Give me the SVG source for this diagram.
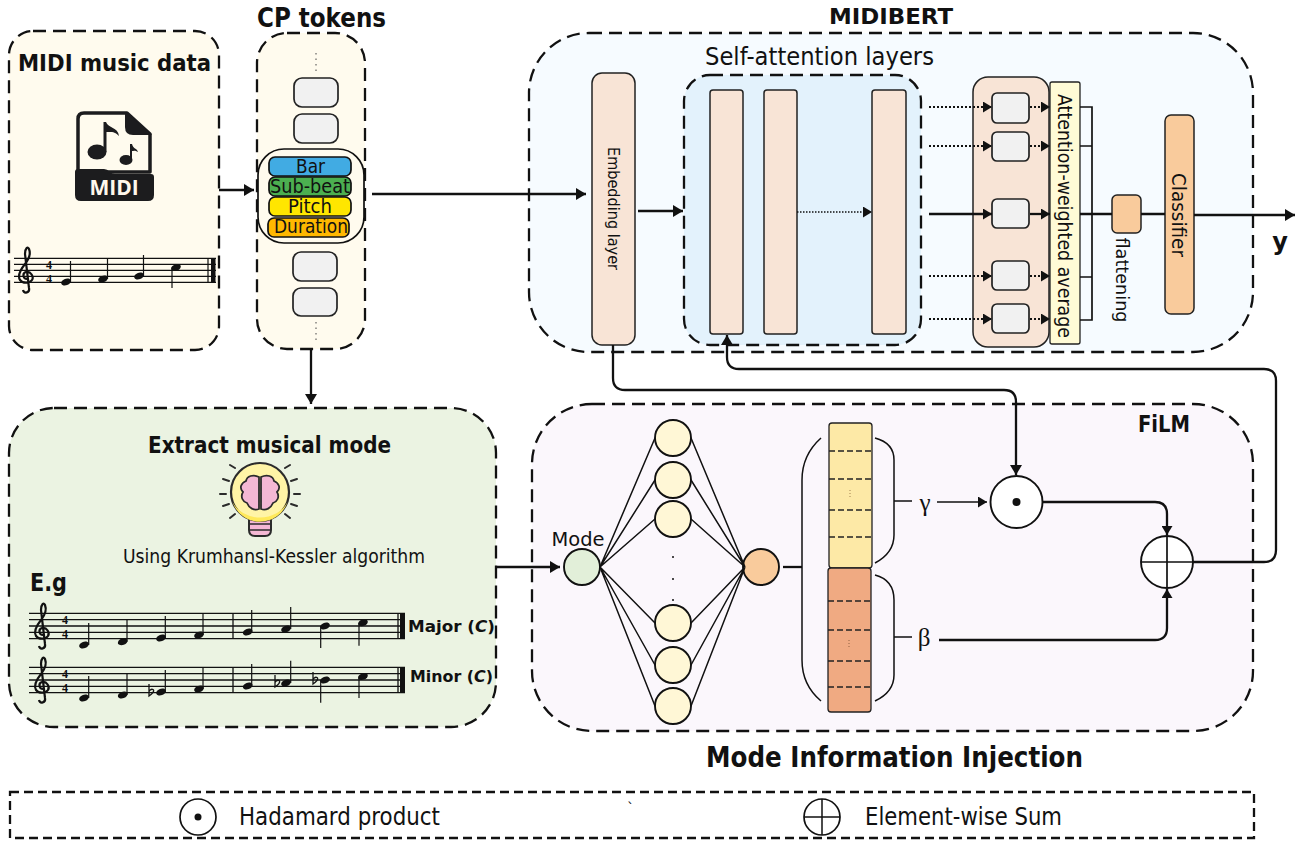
<svg xmlns="http://www.w3.org/2000/svg" width="1307" height="844" viewBox="0 0 1307 844">
<style>
text{font-family:"DejaVu Sans","Liberation Sans",sans-serif;fill:#111}
.b{font-weight:bold}
.m{text-anchor:middle}
.panel{stroke:#111;stroke-width:2.300;stroke-dasharray:13 7}
.gray{fill:#f1f1f1;stroke:#222;stroke-width:1.700}
.peach{fill:#f8e4d6;stroke:#222;stroke-width:1.500}
.pill{stroke:#111;stroke-width:1.700}
.c{fill:none;stroke:#111;stroke-width:2.300}
.t{fill:none;stroke:#111;stroke-width:1.700}
.d{fill:none;stroke:#111;stroke-width:2.200;stroke-dasharray:2 2}
.n{fill:#fff7d6;stroke:#111;stroke-width:1.900}
.wire{fill:none;stroke:#111;stroke-width:1.500}
.dash{stroke:#222;stroke-width:1.500;stroke-dasharray:6 3}
.staff{stroke:#111;stroke-width:1.300}
.stem{stroke:#111;stroke-width:1.200}
.ts{font-family:"Liberation Serif",serif;font-weight:bold;font-size:12px;text-anchor:middle}
</style>
<defs>
<marker id="a" markerUnits="userSpaceOnUse" markerWidth="11" markerHeight="12" refX="10" refY="6" orient="auto"><path d="M0 0L10 6L0 12z" fill="#111"/></marker>
<marker id="s" markerUnits="userSpaceOnUse" markerWidth="9" markerHeight="11" refX="9" refY="5.500" orient="auto"><path d="M0 0L9 5.500L0 11z" fill="#111"/></marker>
<ellipse id="nh" rx="5" ry="3.300" transform="rotate(-20)" fill="#111"/>
<path id="clef" d="M1 3C-3 3-4-3 0-4C5-5 8 1 6 4C4 7-3 8-6 4C-9-1-5-7-1-12C3-17 5-22 3-27C2-30-1-28-1-22L3 12C4 17-2 18-3 14" fill="none" stroke="#111" stroke-width="2.200"/>
<path id="flat" d="M0-9L0 3C3 1 6-2 4-3.500C2-4.500 0-2 0-1" fill="none" stroke="#111" stroke-width="1.300"/>
</defs>

<g id="panel-midi"><rect class="panel" x="9" y="31" width="210" height="319" rx="24" fill="#fffbee"/>
<text class="b" x="18" y="71" font-size="23" textLength="193" lengthAdjust="spacingAndGlyphs">MIDI music data</text></g>
<g id="panel-cp"><rect class="panel" x="257" y="33" width="108" height="316" rx="30" fill="#fffbee"/>
<text class="b" x="257" y="27" font-size="27" textLength="129" lengthAdjust="spacingAndGlyphs">CP tokens</text></g>
<g id="panel-midibert"><rect class="panel" x="529" y="33" width="724" height="319" rx="60" fill="#f6fbff"/>
<text class="b" x="829" y="24" font-size="22" textLength="124" lengthAdjust="spacingAndGlyphs">MIDIBERT</text></g>
<g id="panel-mode"><rect class="panel" x="9" y="408" width="487" height="319" rx="45" fill="#ebf3e2"/>
<text class="b" x="148" y="453" font-size="23" textLength="243" lengthAdjust="spacingAndGlyphs">Extract musical mode</text>
<text x="123" y="563" font-size="19" textLength="302" lengthAdjust="spacingAndGlyphs">Using Krumhansl-Kessler algorithm</text>
<text class="b" x="30" y="591" font-size="25" textLength="37" lengthAdjust="spacingAndGlyphs">E.g</text></g>
<g id="panel-film"><rect class="panel" x="532" y="404" width="721" height="327" rx="60" fill="#fbf7fc"/>
<text class="b" x="1138" y="432" font-size="23" textLength="52" lengthAdjust="spacingAndGlyphs">FiLM</text></g>
<g id="panel-attention"><rect class="panel" x="684" y="75" width="237" height="270" rx="26" fill="#e3f2fc"/>
<text x="705" y="65" font-size="25" textLength="229" lengthAdjust="spacingAndGlyphs">Self-attention layers</text></g>

<text x="706" y="767" class="b" font-size="29" textLength="377" lengthAdjust="spacingAndGlyphs">Mode Information Injection</text>

<g id="midi-icon">
<path d="M127 113H84Q78 113 78 119V172H150V134Z" fill="#fffbee" stroke="#1c1c1e" stroke-width="3.500" stroke-linejoin="round"/>
<path d="M125 112L152 135H133Q125 135 125 127Z" fill="#1c1c1e"/>
<path d="M75 172Q75 169 78 169H104Q107 169 110 172Q112 174 115 174H151Q154 174 154 177V195Q154 201 148 201H81Q75 201 75 195Z" fill="#1c1c1e"/>
<ellipse cx="97" cy="152" rx="9.500" ry="7.500" fill="#1c1c1e"/><path d="M103.500 152V122H106C108 128 118 127 119 136C115 131 110 132 106.500 132V152Z" fill="#1c1c1e"/>
<ellipse cx="126" cy="160" rx="6.500" ry="5" fill="#1c1c1e"/><path d="M130 160V144H132C133 149 137 148 138 152C135 150 133 151 132 151V160Z" fill="#1c1c1e"/>
<text class="m" x="114" y="195" font-size="21" font-weight="bold" style="font-family:'Open Sans',sans-serif;fill:#fff8ec">MIDI</text>
</g>

<g id="score-midi">
<path class="staff" d="M14 258.300H216M14 264.300H216M14 270.300H216M14 276.300H216M14 282.300H216"/>
<use href="#clef" x="26" y="276"/>
<text class="ts" x="49" y="269">4</text><text class="ts" x="49" y="283">4</text>
<use href="#nh" x="66" y="282"/><use href="#nh" x="103" y="279"/><use href="#nh" x="139" y="276"/><use href="#nh" x="176" y="267.500"/>
<path class="stem" d="M70.500 282V261M107.500 279V258M143.500 276V255M172 267.500V288M208 258V282"/>
<rect x="211" y="258" width="4.500" height="25" fill="#111"/>
</g>

<g id="cp-stack">
<path d="M316 53V72M316 322V342" fill="none" stroke="#444" stroke-dasharray="1.500 4"/>
<rect class="gray" x="294" y="78" width="44" height="29" rx="8"/>
<rect class="gray" x="294" y="114" width="44" height="29" rx="8"/>
<rect class="gray" x="293" y="252" width="44" height="29" rx="8"/>
<rect class="gray" x="293" y="288" width="44" height="28" rx="8"/>
<rect x="258" y="149" width="106" height="94" rx="26" fill="#fffbee" stroke="#111" stroke-width="1.700"/>
</g>
<g id="token-bar"><rect class="pill" x="269" y="157" width="82" height="19" rx="6" fill="#41abe3"/><text x="296" y="173" font-size="19" textLength="29" lengthAdjust="spacingAndGlyphs">Bar</text></g>
<g id="token-subbeat"><rect class="pill" x="269" y="177" width="82" height="19" rx="6" fill="#4caf50"/><text x="270" y="193" font-size="19" textLength="80" lengthAdjust="spacingAndGlyphs">Sub-beat</text></g>
<g id="token-pitch"><rect class="pill" x="269" y="197" width="82" height="19" rx="6" fill="#ffe600"/><text x="288" y="213" font-size="19" textLength="44" lengthAdjust="spacingAndGlyphs">Pitch</text></g>
<g id="token-duration"><rect class="pill" x="268" y="218" width="81" height="19" rx="6" fill="#ffb800"/><text x="274" y="233" font-size="19" textLength="74" lengthAdjust="spacingAndGlyphs">Duration</text></g>

<g id="embedding"><rect class="peach" x="592" y="73" width="43" height="272" rx="10"/>
<text class="m" transform="translate(613 208.500) rotate(90)" dy="0.350em" font-size="15" textLength="123" lengthAdjust="spacingAndGlyphs">Embedding layer</text></g>
<g id="attention-1"><rect class="peach" x="710" y="90" width="33" height="244" rx="3"/></g>
<g id="attention-2"><rect class="peach" x="764" y="90" width="33" height="244" rx="3"/></g>
<g id="attention-3"><rect class="peach" x="872" y="90" width="34" height="244" rx="3"/></g>
<g id="pooling"><rect class="peach" x="973" y="77" width="76" height="270" rx="15"/>
<rect class="gray" x="992" y="93" width="37" height="30" rx="5"/>
<rect class="gray" x="992" y="132" width="37" height="29" rx="5"/>
<rect class="gray" x="992" y="199" width="37" height="29" rx="5"/>
<rect class="gray" x="992" y="261" width="37" height="29" rx="5"/>
<rect class="gray" x="992" y="304" width="37" height="29" rx="5"/></g>
<g id="attn-avg"><rect x="1050" y="82" width="30" height="262" rx="2" fill="#fffbd6" stroke="#222" stroke-width="1.300"/>
<text class="m" transform="translate(1065 216) rotate(90)" dy="0.350em" font-size="19" textLength="244" lengthAdjust="spacingAndGlyphs">Attention-weighted average</text></g>
<g id="flatten"><rect x="1112" y="195" width="29" height="38" rx="5" fill="#f9cb9c" stroke="#222" stroke-width="1.500"/>
<text class="m" transform="translate(1122 280) rotate(90)" dy="0.350em" font-size="18" textLength="85" lengthAdjust="spacingAndGlyphs">flattening</text></g>
<g id="classifier"><rect x="1165" y="115" width="29" height="199" rx="6" fill="#f9cb9c" stroke="#222" stroke-width="1.500"/>
<text class="m" transform="translate(1179 215) rotate(90)" dy="0.350em" font-size="19" textLength="84" lengthAdjust="spacingAndGlyphs">Classifier</text></g>
<g id="output"><text class="b m" x="1280" y="250" font-size="24">y</text></g>

<g id="bulb">
<path d="M249 518H271V530Q271 536 265 536H255Q249 536 249 530Z" fill="#f4b8d4" stroke="#2b2b2b" stroke-width="2"/>
<path d="M249 524H271M249 530H271" stroke="#2b2b2b" stroke-width="1.500"/>
<circle cx="260" cy="492" r="29" fill="#fff4a6" stroke="#2b2b2b" stroke-width="2.200"/>
<path d="M232.500 502A29 29 0 0 0 287.500 502A30 26 0 0 1 232.500 502Z" fill="#ffe95a"/>
<path d="M259 477C253 474 247 476 246 481C241 483 239 488 243 492C240 497 243 502 247 503C249 508 254 511 259 509ZM261 477C267 474 273 476 274 481C279 483 281 488 277 492C280 497 277 502 273 503C271 508 266 511 261 509Z" fill="#f4b8d4" stroke="#2b2b2b" stroke-width="1.800"/>
<path d="M220 494H226M294 494H300M223 479L229 481M297 479L291 481M223 506L229 504M297 506L291 504M230 465L235 468M290 465L285 468M230 518L235 514M290 518L285 514" stroke="#2b2b2b" stroke-width="2" stroke-linecap="round"/>
</g>

<g id="score-major">
<path class="staff" d="M29 613.300H405M29 619.600H405M29 626H405M29 632.300H405M29 638.700H405M233 613V639M398 613V639"/>
<use href="#clef" x="42" y="632"/>
<text class="ts" x="65" y="624">4</text><text class="ts" x="65" y="638">4</text>
<use href="#nh" x="84" y="645"/><use href="#nh" x="122.700" y="641.700"/><use href="#nh" x="161" y="638"/><use href="#nh" x="199" y="635"/><use href="#nh" x="247.700" y="632"/><use href="#nh" x="286" y="629"/><use href="#nh" x="325" y="626"/><use href="#nh" x="363" y="622.700"/>
<path class="stem" d="M88.700 645V623M127 641.700V620M165.300 638V616M203 635V613M251.700 632V610M290.700 629V607M320.700 626V648M359 622.700V645.700"/>
<rect x="400" y="613" width="5" height="26" fill="#111"/>
<text class="b" x="408" y="632" font-size="16" textLength="87" lengthAdjust="spacingAndGlyphs">Major (<tspan font-style="italic">C</tspan>)</text>
</g>
<g id="score-minor">
<path class="staff" d="M29 667.300H405M29 673.600H405M29 680H405M29 686.300H405M29 692.700H405M233 667V693M398 667V693"/>
<use href="#clef" x="42" y="686"/>
<text class="ts" x="65" y="678">4</text><text class="ts" x="65" y="692">4</text>
<use href="#nh" x="84" y="698"/><use href="#nh" x="122.700" y="695"/><use href="#nh" x="161" y="692"/><use href="#nh" x="199" y="689"/><use href="#nh" x="247.700" y="686"/><use href="#nh" x="286" y="683"/><use href="#nh" x="325" y="680"/><use href="#nh" x="363" y="676.500"/>
<path class="stem" d="M88.700 698V676M127 695V674M165.300 692V670M203 689V667.700M251.700 686V664M290.700 683V660.700M320.700 680V702.700M359 676.500V698"/>
<use href="#flat" x="149" y="693"/><use href="#flat" x="275" y="684"/><use href="#flat" x="313" y="681"/>
<rect x="400" y="667" width="5" height="26" fill="#111"/>
<text class="b" x="410" y="682" font-size="16" textLength="83" lengthAdjust="spacingAndGlyphs">Minor (<tspan font-style="italic">C</tspan>)</text>
</g>

<g id="mode-input"><circle cx="582" cy="567" r="18" fill="#e2efd9" stroke="#111" stroke-width="1.900"/>
<text class="m" x="578" y="546" font-size="20" textLength="53" lengthAdjust="spacingAndGlyphs">Mode</text></g>
<g id="hidden-1"><circle class="n" cx="673" cy="438" r="18"/></g>
<g id="hidden-2"><circle class="n" cx="673" cy="480" r="18"/></g>
<g id="hidden-3"><circle class="n" cx="673" cy="519" r="18"/></g>
<g id="hidden-dots"><circle cx="673" cy="557" r="1" fill="#111"/><circle cx="673" cy="579" r="1" fill="#111"/><circle cx="673" cy="600" r="1" fill="#111"/></g>
<g id="hidden-4"><circle class="n" cx="673" cy="623" r="18"/></g>
<g id="hidden-5"><circle class="n" cx="673" cy="665" r="18"/></g>
<g id="hidden-6"><circle class="n" cx="673" cy="706" r="18"/></g>
<g id="output-node"><circle cx="761" cy="567" r="18" fill="#f9cb9c" stroke="#111" stroke-width="1.900"/></g>
<g id="gamma-vector"><rect x="829" y="423" width="43" height="145" rx="3" fill="#fde9a6" stroke="#222" stroke-width="1.300"/>
<path class="dash" d="M829 451H872M829 479H872M829 510H872M829 537H872"/>
<path d="M850 490V498" stroke="#a08050" stroke-dasharray="1 2"/></g>
<g id="beta-vector"><rect x="828" y="568" width="43" height="144" rx="3" fill="#f0aa82" stroke="#222" stroke-width="1.300"/>
<path class="dash" d="M828 601H871M828 630H871M828 661H871M828 687H871"/>
<path d="M849 640V648" stroke="#906040" stroke-dasharray="1 2"/></g>
<g id="gamma-label"><text class="m" x="925" y="511" font-size="25" style="font-family:'Liberation Serif',serif">γ</text></g>
<g id="beta-label"><text class="m" x="924" y="646" font-size="25" style="font-family:'Liberation Serif',serif">β</text></g>
<g id="hadamard"><circle cx="1016.500" cy="502" r="26" fill="#fff" stroke="#111" stroke-width="1.900"/><circle cx="1016.500" cy="502" r="4" fill="#111"/></g>
<g id="sum"><circle cx="1167" cy="562" r="26" fill="#fff" stroke="#111" stroke-width="1.900"/><path d="M1141 562H1193M1167 536V588" stroke="#111" stroke-width="1.700"/></g>

<g id="legend">
<rect class="panel" x="10" y="792" width="1244" height="46" fill="none" style="stroke-dasharray:9 5"/>
<circle cx="198" cy="817" r="18" fill="#fff" stroke="#111" stroke-width="1.700"/><circle cx="198" cy="817" r="3.500" fill="#111"/>
<text x="239" y="825" font-size="24" textLength="201" lengthAdjust="spacingAndGlyphs">Hadamard product</text>
<circle cx="822" cy="817" r="18" fill="#fff" stroke="#111" stroke-width="1.700"/><path d="M804 817H840M822 799V835" stroke="#111" stroke-width="1.500"/>
<text x="865" y="825" font-size="24" textLength="197" lengthAdjust="spacingAndGlyphs">Element-wise Sum</text>
<text x="627" y="813" font-size="14">`</text>
</g>

<g id="connectors">
<path class="c" d="M219 190H254" marker-end="url(#a)"/>
<path class="c" d="M372 194H586" marker-end="url(#a)"/>
<path class="c" d="M311 349V404" marker-end="url(#a)"/>
<path class="c" d="M497 567H560" marker-end="url(#a)"/>
<path class="c" d="M638 211H683" marker-end="url(#a)"/>
<path d="M797 212H872" fill="none" stroke="#111" stroke-width="1.300" stroke-dasharray="1.500 1.500" marker-end="url(#s)"/>
<path class="d" d="M929 107H992" marker-end="url(#s)"/><path class="d" d="M929 146H992" marker-end="url(#s)"/>
<path class="c" d="M929 214H992" marker-end="url(#s)"/>
<path class="d" d="M929 276H992" marker-end="url(#s)"/><path class="d" d="M929 319H992" marker-end="url(#s)"/>
<path class="d" d="M1030 107H1050" marker-end="url(#s)"/><path class="d" d="M1030 146H1050" marker-end="url(#s)"/>
<path class="c" d="M1030 214H1050" marker-end="url(#s)"/>
<path class="d" d="M1030 276H1050" marker-end="url(#s)"/><path class="d" d="M1030 319H1050" marker-end="url(#s)"/>
<path class="t" d="M1080 107H1092V320H1080M1080 146H1092M1080 277H1092"/>
<path class="c" d="M1080 214H1112M1141 214H1165"/>
<path class="c" d="M1194 215H1295" marker-end="url(#a)"/>
<path class="c" d="M613 345V378Q613 390 625 390H1004Q1016 390 1016 402V475" marker-end="url(#a)"/>
<path class="c" d="M1193 562H1264Q1276 562 1276 550V381Q1276 369 1264 369H739Q727 369 727 357V335" marker-end="url(#a)"/>
<path class="c" d="M1042 502H1155Q1167 502 1167 514V535" marker-end="url(#s)"/>
<path class="c" d="M939 640H1155Q1167 640 1167 628V589" marker-end="url(#s)"/>
<path class="t" d="M894 501H912M894 637H912"/>
<path class="t" d="M937 502H987" marker-end="url(#s)"/>
<path class="c" d="M783 567H802"/>
<path class="wire" d="M600 567L655 438M600 567L655 480M600 567L655 519M600 567L655 623M600 567L655 665M600 567L655 706"/>
<path class="wire" d="M745 567L691 438M745 567L691 480M745 567L691 519M745 567L691 623M745 567L691 665M745 567L691 706"/>
<path class="wire" d="M821 438Q802 455 802 480V660Q802 685 821 701"/>
<path class="wire" d="M875 438Q894 443 894 460V535Q894 553 875 563"/>
<path class="wire" d="M875 575Q894 580 894 600V675Q894 692 875 701"/>
</g>
</svg>
